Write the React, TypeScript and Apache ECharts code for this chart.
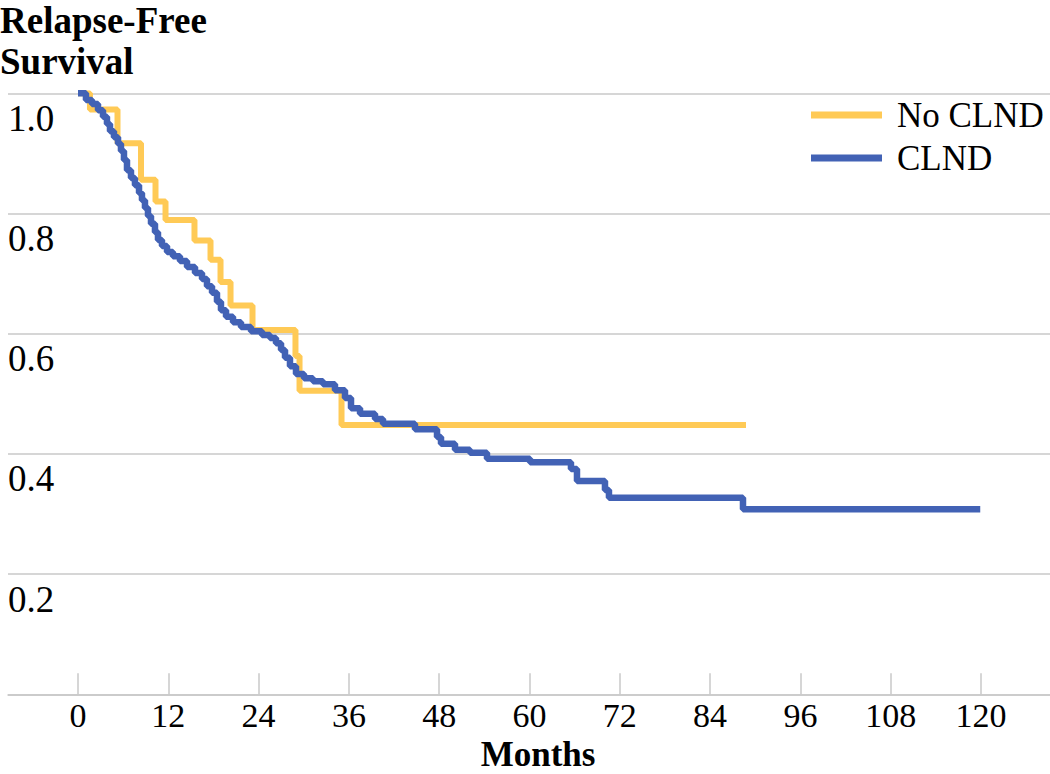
import React, { useEffect, useRef } from "react";
import * as echarts from "echarts";

// Kaplan-Meier step points: [month of drop, new survival value]
const noClndMonths = [0, 1.59, 5.25, 8.37, 10.3, 11.63, 15.48, 17.61, 18.94, 20.27, 23.19, 28.9, 29.44, 35.02, 88.77];
const noClndValues = [1.0, 0.973, 0.917, 0.856, 0.82, 0.789, 0.755, 0.723, 0.686, 0.647, 0.606, 0.563, 0.505, 0.448, 0.448];

const clndMonths = [
  0, 1.06, 1.86, 2.66, 3.32, 3.85, 4.25, 4.78, 5.32, 5.71, 6.11, 6.51, 7.04, 7.57, 8.11, 8.5, 8.9, 9.3, 9.7,
  10.23, 10.63, 11.16, 11.83, 12.62, 13.55, 14.49, 15.55, 16.48, 17.14, 17.81, 18.47, 19.0, 19.67, 20.6,
  21.66, 22.99, 24.45, 25.51, 26.31, 26.98, 27.51, 28.17, 28.97, 30.03, 31.23, 32.56, 34.15, 35.48, 36.28,
  37.48, 39.47, 40.53, 44.78, 47.71, 48.24, 50.1, 52.09, 54.35, 60.07, 65.51, 66.31, 70.03, 70.56, 88.37, 119.9,
];
const clndValues = [
  1.0, 0.989, 0.982, 0.972, 0.961, 0.949, 0.937, 0.927, 0.916, 0.904, 0.889, 0.872, 0.859, 0.847, 0.834, 0.822,
  0.809, 0.796, 0.783, 0.769, 0.756, 0.746, 0.736, 0.729, 0.721, 0.711, 0.701, 0.691, 0.679, 0.668, 0.653,
  0.639, 0.628, 0.619, 0.611, 0.604, 0.598, 0.593, 0.584, 0.573, 0.56, 0.546, 0.533, 0.526, 0.521, 0.516,
  0.506, 0.493, 0.476, 0.467, 0.458, 0.45, 0.441, 0.428, 0.417, 0.407, 0.402, 0.392, 0.386, 0.375, 0.355,
  0.34, 0.327, 0.308, 0.308,
];

const xTicks = [0, 12, 24, 36, 48, 60, 72, 84, 96, 108, 120];
const seriesNames = ["No CLND", "CLND"];

const FONT = "'Liberation Serif', 'Times New Roman', serif";
const GRID = "#c8c8c8";

export default function App() {
  const ref = useRef<HTMLDivElement>(null);
  useEffect(() => {
    if (!ref.current) return;
    const chart = echarts.init(ref.current, undefined, { renderer: "svg" });
    const toPairs = (ms: number[], vs: number[]) => ms.map((m, i) => [m, vs[i]]);
    chart.setOption({
      animation: false,
      backgroundColor: "#ffffff",
      title: {
        text: "Relapse-Free",
        subtext: "Survival",
        left: 0,
        top: 4.3,
        padding: 0,
        itemGap: 3.7,
        textStyle: { fontFamily: FONT, fontWeight: "bold", fontSize: 37, lineHeight: 33, color: "#000" },
        subtextStyle: { fontFamily: FONT, fontWeight: "bold", fontSize: 37, lineHeight: 33, color: "#000" },
      },
      legend: {
        orient: "vertical",
        left: 811,
        top: 97.5,
        padding: 0,
        itemGap: 8,
        itemWidth: 71,
        itemHeight: 7,
        icon: "rect",
        data: seriesNames,
        textStyle: { fontFamily: FONT, fontSize: 35, lineHeight: 35, color: "#000", padding: [0, 0, 0, 10] },
      },
      grid: { left: 8, right: 0, top: 93.3, bottom: 79.7, containLabel: false, outerBoundsMode: "none" },
      xAxis: {
        type: "value",
        min: -9.302,
        max: 129.17,
        name: "Months",
        nameLocation: "middle",
        nameGap: 44.85,
        nameMoveOverlap: false,
        nameTextStyle: { fontFamily: FONT, fontWeight: "bold", fontSize: 35, lineHeight: 30, color: "#000", padding: [0, 0, 0, 18] },
        axisLine: { show: true, lineStyle: { color: GRID, width: 1.5 } },
        axisTick: { show: true, inside: true, length: 21, customValues: xTicks, lineStyle: { color: GRID, width: 1.5 } },
        axisLabel: { customValues: xTicks, margin: 6.2, fontFamily: FONT, fontSize: 34, lineHeight: 30, color: "#000" },
        splitLine: { show: false },
      },
      yAxis: {
        type: "value",
        min: 0,
        max: 1,
        interval: 0.2,
        axisLine: { show: false },
        axisTick: { show: false },
        axisLabel: {
          inside: true,
          margin: 0,
          align: "left",
          verticalAlign: "top",
          padding: [7, 0, 0, 0],
          fontFamily: FONT,
          fontSize: 37,
          lineHeight: 36,
          color: "#000",
          formatter: (v: number) => (v === 0 ? "" : v.toFixed(1)),
        },
        splitLine: { show: true, lineStyle: { color: GRID, width: 1.5 } },
      },
      series: [
        {
          name: seriesNames[0],
          type: "line",
          step: "end",
          showSymbol: false,
          color: "#FFCA56",
          lineStyle: { width: 6, color: "#FFCA56" },
          data: toPairs(noClndMonths, noClndValues),
        },
        {
          name: seriesNames[1],
          type: "line",
          step: "end",
          showSymbol: false,
          color: "#4262B5",
          lineStyle: { width: 6.5, color: "#4262B5" },
          data: toPairs(clndMonths, clndValues),
        },
      ],
    });
    return () => chart.dispose();
  }, []);
  return <div ref={ref} style={{ width: 1050, height: 774, position: "absolute", left: 0, top: 0 }} />;
}
